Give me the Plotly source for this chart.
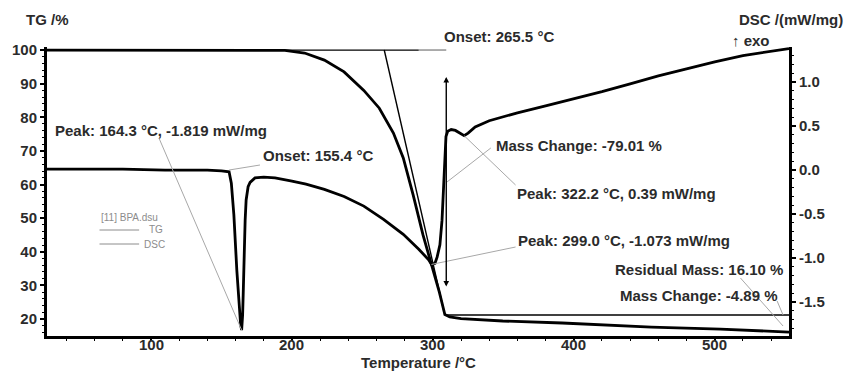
import plotly.graph_objects as go

# ---------------- data ----------------
tg_temp = [26.2, 80, 140, 180, 195, 209, 223, 237, 251, 262, 272, 279, 286, 293,
           300, 304.6, 308.5, 312, 320, 349.6, 391.7, 455, 504, 552.7]
tg_mass = [100, 100, 100, 100, 99.9, 99.1, 97.0, 93.5, 88.0, 82.7, 75.3, 67.9, 56.9, 45.0,
           35.2, 28.0, 21.3, 20.6, 20.1, 19.4, 18.8, 17.6, 17.0, 16.1]

dsc_temp = [26.2, 50, 80, 110, 140, 150, 155.4, 157.0, 158.8, 160.9, 162.3, 163.6, 164.3,
            165.0, 165.4, 166.1, 166.8, 167.5, 168.9, 170.3, 173.8, 180, 188, 200, 210,
            223, 237, 251, 265, 279, 290, 297, 299, 301.5, 303, 305, 306.5, 307.5, 308.5,
            309.3, 310.5, 313, 316, 319, 322.2, 325, 330, 340, 360, 380, 400, 420, 440,
            460, 480, 500, 520, 540, 552.7]
dsc_heat = [0.01, 0.01, 0.01, 0.0, 0.0, -0.01, -0.02, -0.15, -0.51, -1.14, -1.48, -1.76, -1.819,
            -1.65, -1.42, -0.91, -0.57, -0.34, -0.19, -0.14, -0.09, -0.08, -0.09, -0.125, -0.16,
            -0.22, -0.30, -0.41, -0.56, -0.73, -0.90, -1.02, -1.073, -1.06, -0.99, -0.85, -0.57,
            -0.23, 0.11, 0.38, 0.44, 0.46, 0.45, 0.42, 0.39, 0.42, 0.49, 0.56, 0.65, 0.73, 0.81,
            0.89, 0.98, 1.07, 1.15, 1.23, 1.30, 1.35, 1.38]

x_tickvals = [100, 200, 300, 400, 500]
x_ticktext = ["100", "200", "300", "400", "500"]
tg_tickvals = [20, 30, 40, 50, 60, 70, 80, 90, 100]
dsc_tickvals = [-1.5, -1.0, -0.5, 0.0, 0.5, 1.0]
dsc_ticktext = ["-1.5", "-1.0", "-0.5", "0.0", "0.5", "1.0"]

# evaluation results
peak1_t, peak1_v = 164.3, -1.819
onset1_t = 155.4
onset2_t = 265.5
peak2_t, peak2_v = 322.2, 0.39
peak3_t, peak3_v = 299.0, -1.073
mass_change1 = -79.01
residual_mass = 16.10
mass_change2 = -4.89
step_temp = 309.5
step_top, step_bottom = 92.0, 29.2
step_level = 21.2
tangent_end = (308.0, 22.0)

# ---------------- layout helpers ----------------
X_RANGE = [26.2, 552.7]
TG_RANGE = [14.94, 100.9]
DSC_RANGE = [-1.886, 1.398]
L, R, T, B = 40, 789, 47, 336


def px(x):
    return (x - L) / (R - L)


def py(y):
    return (B - y) / (B - T)


def t_of(x):
    return X_RANGE[0] + (x - L) / (R - L) * (X_RANGE[1] - X_RANGE[0])


def tg_of(y):
    return TG_RANGE[1] - (y - T) / (B - T) * (TG_RANGE[1] - TG_RANGE[0])


def dsc_of(y):
    return DSC_RANGE[1] - (y - T) / (B - T) * (DSC_RANGE[1] - DSC_RANGE[0])


FONT = "Liberation Sans, Arial, sans-serif"
TXT = "#2b2b2b"
GRAY = "#a8a8a8"

fig = go.Figure()
fig.add_trace(go.Scatter(x=tg_temp, y=tg_mass, mode="lines",
                         line=dict(color="black", width=2.8), yaxis="y", showlegend=False))
fig.add_trace(go.Scatter(x=dsc_temp, y=dsc_heat, mode="lines",
                         line=dict(color="black", width=2.8), yaxis="y2", showlegend=False))

shapes = []
# onset baseline / tangent for TG step
shapes.append(dict(type="line", xref="x", yref="y", x0=X_RANGE[0], x1=290, y0=100, y1=100,
                   line=dict(color="black", width=1.3)))
shapes.append(dict(type="line", xref="x", yref="y", x0=290, x1=step_temp, y0=100, y1=100,
                   line=dict(color="#777777", width=1.2)))
shapes.append(dict(type="line", xref="x", yref="y", x0=onset2_t, x1=tangent_end[0], y0=100,
                   y1=tangent_end[1], line=dict(color="black", width=1.4)))
shapes.append(dict(type="line", xref="x", yref="y", x0=step_temp - 1, x1=X_RANGE[1],
                   y0=step_level, y1=step_level, line=dict(color="black", width=1.5)))

# leader lines
def leader(x0, y0, x1, y1, yref):
    shapes.append(dict(type="line", xref="x", yref=yref, x0=x0, y0=y0, x1=x1, y1=y1,
                       line=dict(color=GRAY, width=1)))

leader(peak1_t, peak1_v, t_of(153), dsc_of(138), "y2")
leader(onset1_t, 0.0, t_of(255), dsc_of(165), "y2")
leader(step_temp + 0.5, tg_of(182), t_of(488), tg_of(148), "y")
leader(peak2_t, peak2_v, t_of(513), dsc_of(185), "y2")
leader(peak3_t, peak3_v, t_of(513), dsc_of(247), "y2")
leader(t_of(740), tg_of(278), t_of(783), tg_of(326), "y")
leader(t_of(777), tg_of(301), t_of(783), tg_of(315), "y")

# legend lines
shapes.append(dict(type="line", xref="paper", yref="paper", x0=px(93), x1=px(133), y0=py(230),
                   y1=py(230), line=dict(color="#8c8c8c", width=1)))
shapes.append(dict(type="line", xref="paper", yref="paper", x0=px(93), x1=px(133), y0=py(244),
                   y1=py(244), line=dict(color="#8c8c8c", width=1)))

ann = []


def text(s, x, y, xanchor="left", size=15, color=TXT, bold=True, yanchor="middle"):
    ann.append(dict(text=(f"<b>{s}</b>" if bold else s), xref="paper", yref="paper",
                    x=px(x), y=py(y), xanchor=xanchor, yanchor=yanchor, showarrow=False,
                    font=dict(family=FONT, size=size, color=color)))


text(f"Peak: {peak1_t:.1f} °C, {peak1_v:.3f} mW/mg", 46, 130)
text(f"Onset: {onset1_t:.1f} °C", 256, 155)
text(f"Onset: {onset2_t:.1f} °C", 439, 37)
text(f"Mass Change: {mass_change1:.2f} %", 491, 145)
text(f"Peak: {peak2_t:.1f} °C, {peak2_v:.2f} mW/mg", 512, 193)
text(f"Peak: {peak3_t:.1f} °C, {peak3_v:.3f} mW/mg", 513, 240)
text(f"Residual Mass: {residual_mass:.2f} %", 785, 269, xanchor="right")
text(f"Mass Change: {mass_change2:.2f} %", 780, 295, xanchor="right")
text("TG /%", 17, 20)
text("DSC /(mW/mg)", 737, 19)
text("↑ exo", 729, 40)
text("Temperature /°C", 415, 373.5, xanchor="center", yanchor="bottom", size=15)
text("[11] BPA.dsu", 92, 217, size=10, color="#8c8c8c", bold=False)
text("TG", 159, 230, xanchor="right", size=10, color="#8c8c8c", bold=False)
text("DSC", 161, 244, xanchor="right", size=10, color="#8c8c8c", bold=False)

# x tick labels placed on the x scale
for v, s in zip(x_tickvals, x_ticktext):
    ann.append(dict(text=f"<b>{s}</b>", xref="x", yref="paper", x=v, y=py(344.5),
                    xanchor="center", yanchor="middle", showarrow=False,
                    font=dict(family=FONT, size=15, color=TXT)))

# double-headed mass change arrow
ann.append(dict(x=step_temp, y=step_top, ax=step_temp, ay=step_bottom, xref="x", yref="y",
                axref="x", ayref="y", text="", showarrow=True, arrowhead=2, startarrowhead=2,
                arrowside="end+start", arrowsize=0.8, startarrowsize=0.8, arrowwidth=1.4,
                arrowcolor="black"))

tickfont = dict(family=FONT, size=15, color=TXT, weight="bold")

fig.update_layout(
    width=844, height=371,
    margin=dict(l=L, r=844 - R, t=T, b=371 - B),
    paper_bgcolor="white", plot_bgcolor="white",
    showlegend=False,
    shapes=shapes, annotations=ann,
    xaxis=dict(range=X_RANGE, tickvals=x_tickvals, showticklabels=False, showline=True,
               linewidth=3, linecolor="black", ticks="outside", ticklen=2, tickwidth=1.5,
               tickcolor="black",
               minor=dict(dtick=20, tick0=0, ticks="outside", ticklen=2, tickcolor="black",
                          tickwidth=1),
               showgrid=False, zeroline=False),
    yaxis=dict(range=TG_RANGE, tickvals=tg_tickvals, showline=True, linewidth=3,
               linecolor="black", ticks="outside", ticklen=4, tickwidth=1.5, tickcolor="black",
               minor=dict(dtick=2, tick0=0, ticks="outside", ticklen=2, tickcolor="black",
                          tickwidth=1),
               showgrid=False, zeroline=False, tickfont=tickfont),
    yaxis2=dict(range=DSC_RANGE, overlaying="y", side="right", tickvals=dsc_tickvals,
                ticktext=dsc_ticktext, showline=True, linewidth=3, linecolor="black",
                ticks="outside", ticklen=4, tickwidth=1.5, tickcolor="black",
                minor=dict(dtick=0.1, tick0=0, ticks="outside", ticklen=2, tickcolor="black",
                           tickwidth=1),
                showgrid=False, zeroline=False, tickfont=tickfont),
)

fig.write_html("out.html")
